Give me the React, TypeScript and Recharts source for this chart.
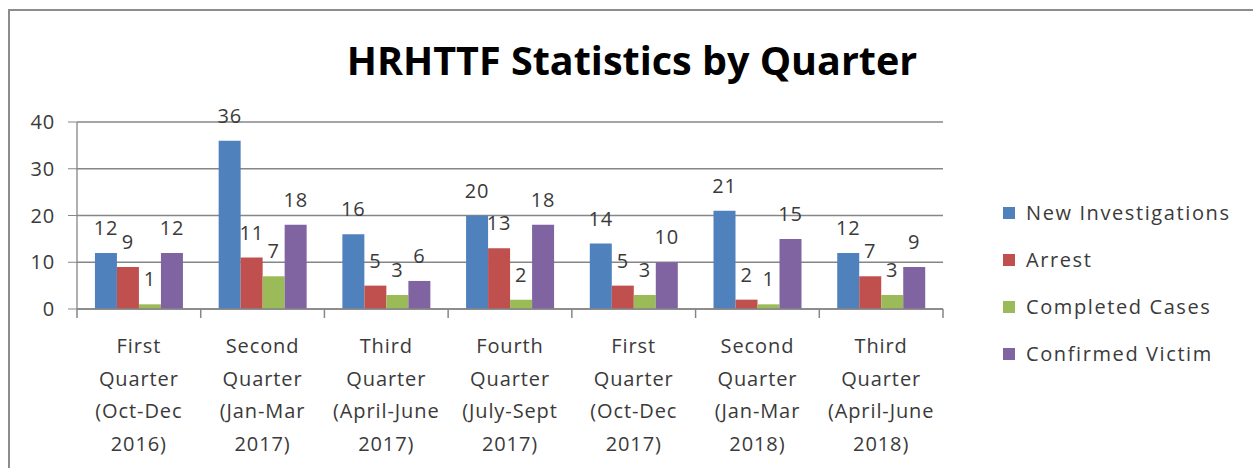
import { Bar, BarChart, CartesianGrid, LabelList, XAxis, YAxis } from "recharts";

const quarters = [
  ["First", "Quarter", "(Oct-Dec", "2016)"],
  ["Second", "Quarter", "(Jan-Mar", "2017)"],
  ["Third", "Quarter", "(April-June", "2017)"],
  ["Fourth", "Quarter", "(July-Sept", "2017)"],
  ["First", "Quarter", "(Oct-Dec", "2017)"],
  ["Second", "Quarter", "(Jan-Mar", "2018)"],
  ["Third", "Quarter", "(April-June", "2018)"],
];
const newInvestigations = [12, 36, 16, 20, 14, 21, 12];
const arrests = [9, 11, 5, 13, 5, 2, 7];
const completedCases = [1, 7, 3, 2, 3, 1, 3];
const confirmedVictims = [12, 18, 6, 18, 10, 15, 9];
const yTicks = [0, 10, 20, 30, 40];

const series = [
  { key: "newInvestigations", name: "New Investigations", color: "#4F81BD" },
  { key: "arrests", name: "Arrest", color: "#C0504D" },
  { key: "completedCases", name: "Completed Cases", color: "#9BBB59" },
  { key: "confirmedVictims", name: "Confirmed Victim", color: "#8064A2" },
];

const data = quarters.map((lines, i) => ({
  label: lines.join(" "),
  newInvestigations: newInvestigations[i],
  arrests: arrests[i],
  completedCases: completedCases[i],
  confirmedVictims: confirmedVictims[i],
}));

const FONT = "'Open Sans', sans-serif";
const TEXT = "#3a3a3a";
const AXIS = "#868686";

// category label plus the Excel-style tick marks between categories
function QuarterTick(props: any) {
  const { x, y, payload, width, visibleTicksCount } = props;
  const lines = quarters[payload.index] ?? [];
  const half = width / visibleTicksCount / 2;
  const isLast = payload.index === visibleTicksCount - 1;
  return (
    <g>
      <line x1={x - half} x2={x - half} y1={y} y2={y + 9} stroke={AXIS} strokeWidth={1.5} />
      {isLast ? (
        <line x1={x + half} x2={x + half} y1={y} y2={y + 9} stroke={AXIS} strokeWidth={1.5} />
      ) : null}
      {lines.map((line, i) => (
        <text
          key={i}
          x={x}
          y={y + 44 + i * 32.5}
          textAnchor="middle"
          fontFamily={FONT}
          fontSize={20}
          fill={TEXT}
          style={{ letterSpacing: 0.9 }}
        >
          {line}
        </text>
      ))}
    </g>
  );
}

export default function App() {
  return (
    <div style={{ position: "absolute", left: 0, top: 0, width: 1253, height: 468, background: "#fff", overflow: "hidden" }}>
      <div
        style={{
          position: "absolute",
          left: 8,
          top: 9,
          width: 1260,
          height: 470,
          borderLeft: "2px solid #8c8c8c",
          borderTop: "2px solid #8c8c8c",
        }}
      />
      <div
        style={{
          position: "absolute",
          left: 8,
          width: 1248,
          top: 35,
          textAlign: "center",
          fontFamily: FONT,
          fontWeight: 700,
          fontSize: 39.5,
          lineHeight: "50px",
          color: "#000",
        }}
      >
        HRHTTF Statistics by Quarter
      </div>
      <div style={{ position: "absolute", left: 0, top: 0 }}>
        <BarChart
          width={1253}
          height={468}
          data={data}
          margin={{ top: 122, right: 310, bottom: 0, left: 0 }}
          barCategoryGap="14.5%"
          barGap={0}
        >
          <CartesianGrid vertical={false} stroke={AXIS} strokeWidth={1.3} />
          <XAxis
            dataKey="label"
            height={159}
            stroke={AXIS}
            axisLine={{ stroke: AXIS, strokeWidth: 1.3 }}
            tickLine={false}
            tickSize={0}
            tickMargin={0}
            interval={0}
            tick={<QuarterTick />}
          />
          <YAxis
            domain={[0, 40]}
            ticks={yTicks}
            width={77}
            tickSize={9}
            tickMargin={13}
            stroke={AXIS}
            axisLine={{ stroke: AXIS, strokeWidth: 1.3 }}
            tick={{ fill: TEXT, fontSize: 20, fontFamily: FONT, style: { letterSpacing: 0.8 } }}
          />
          {series.map((s) => (
            <Bar key={s.key} dataKey={s.key} name={s.name} fill={s.color} isAnimationActive={false}>
              <LabelList
                dataKey={s.key}
                position="top"
                offset={18}
                fill={TEXT}
                fontSize={20}
                fontFamily={FONT}
                style={{ letterSpacing: 0.8 }}
              />
            </Bar>
          ))}
        </BarChart>
      </div>
      <div
        style={{
          position: "absolute",
          left: 1003,
          top: 189,
          fontFamily: FONT,
          fontSize: 20,
          letterSpacing: 1.6,
          color: TEXT,
        }}
      >
        {series.map((s) => (
          <div key={s.key} style={{ display: "flex", alignItems: "center", height: 47 }}>
            <span
              style={{ width: 12, height: 12, background: s.color, marginRight: 11, display: "inline-block" }}
            />
            {s.name}
          </div>
        ))}
      </div>
    </div>
  );
}
